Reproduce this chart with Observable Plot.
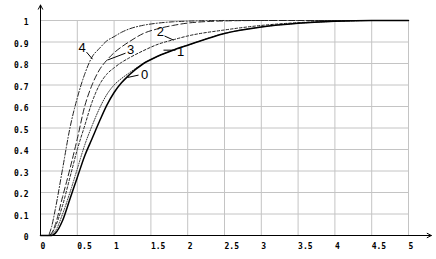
<!DOCTYPE html>
<html>
<head>
<meta charset="utf-8">
<script src="https://cdn.jsdelivr.net/npm/d3@7"></script>
<script src="https://cdn.jsdelivr.net/npm/@observablehq/plot@0.6"></script>
<style>
  html, body { margin: 0; padding: 0; background: #fff; }
  svg { display: block; }
</style>
</head>
<body>
<div id="chart"></div>
<script>
// x positions at which curves were read
const xs = [0, 0.1, 0.15, 0.2, 0.3, 0.4, 0.5, 0.6, 0.7, 0.8, 0.9, 1.0, 1.1, 1.2, 1.4, 1.6, 1.8, 2.0, 2.5, 3.0, 3.5, 4.0, 4.5, 5.0];
// series values (cumulative curves)
const curve0 = [0, 0, 0, 0.01, 0.07, 0.17, 0.27, 0.37, 0.45, 0.53, 0.605, 0.665, 0.71, 0.745, 0.80, 0.835, 0.862, 0.885, 0.94, 0.97, 0.987, 0.996, 1, 1];
const curve1 = [0, 0, 0.005, 0.02, 0.10, 0.20, 0.31, 0.42, 0.51, 0.59, 0.655, 0.70, 0.73, 0.755, 0.80, 0.835, 0.862, 0.885, 0.94, 0.97, 0.987, 0.996, 1, 1];
const curve2 = [0, 0, 0.01, 0.04, 0.14, 0.27, 0.40, 0.51, 0.62, 0.70, 0.75, 0.78, 0.805, 0.825, 0.86, 0.89, 0.91, 0.928, 0.956, 0.977, 0.99, 0.997, 1, 1];
const curve3 = [0, 0, 0.01, 0.05, 0.18, 0.31, 0.45, 0.60, 0.70, 0.77, 0.815, 0.85, 0.877, 0.90, 0.94, 0.962, 0.977, 0.988, 0.998, 1, 1, 1, 1, 1];
const curve4 = [0, 0, 0.04, 0.12, 0.31, 0.50, 0.64, 0.75, 0.83, 0.87, 0.905, 0.925, 0.945, 0.96, 0.978, 0.988, 0.994, 0.997, 1, 1, 1, 1, 1, 1];
// tick labels
const xTicks = [0, 0.5, 1, 1.5, 2, 2.5, 3, 3.5, 4, 4.5, 5];
const yTicks = [0, 0.1, 0.2, 0.3, 0.4, 0.5, 0.6, 0.7, 0.8, 0.9, 1];
// curve labels: text, label anchor, leader start, leader end
const labelNames = ["4", "3", "2", "1", "0"];
const labelX = [0.564, 1.223, 1.63, 1.902, 1.413];
const labelY = [0.872, 0.862, 0.946, 0.853, 0.746];
const leadX1 = [0.625, 1.155, 1.685, 1.834, 1.332];
const leadY1 = [0.853, 0.848, 0.928, 0.862, 0.746];
const leadX2 = [0.707, 0.91, 1.807, 1.671, 1.182];
const leadY2 = [0.82, 0.816, 0.909, 0.862, 0.735];

const toRows = (ys) => xs.map((x, i) => ({x, y: ys[i]}));
const labels = labelNames.map((t, i) => ({t, x: labelX[i], y: labelY[i], x1: leadX1[i], y1: leadY1[i], x2: leadX2[i], y2: leadY2[i]}));

const tickFont = {fontFamily: "DejaVu Sans Mono", fontWeight: "bold", fontSize: 8, fill: "#000"};

const chart = Plot.plot({
  width: 436,
  height: 259,
  marginLeft: 40,
  marginRight: 28,
  marginTop: 20,
  marginBottom: 24,
  style: {background: "#fff", overflow: "visible"},
  x: {domain: [0, 5], axis: null},
  y: {domain: [0, 1], axis: null},
  marks: [
    Plot.gridX(xTicks, {stroke: "#c4c4c4", strokeOpacity: 1, strokeWidth: 1}),
    Plot.gridY(yTicks, {stroke: "#c4c4c4", strokeOpacity: 1, strokeWidth: 1}),
    Plot.line(toRows(curve4), {x: "x", y: "y", curve: "monotone-x", stroke: "#222", strokeWidth: 1, strokeDasharray: "5,2,1,2"}),
    Plot.line(toRows(curve3), {x: "x", y: "y", curve: "monotone-x", stroke: "#222", strokeWidth: 1, strokeDasharray: "6,3"}),
    Plot.line(toRows(curve2), {x: "x", y: "y", curve: "monotone-x", stroke: "#222", strokeWidth: 1, strokeDasharray: "2.5,2"}),
    Plot.line(toRows(curve1), {x: "x", y: "y", curve: "monotone-x", stroke: "#333", strokeWidth: 1, strokeDasharray: "1,1.5"}),
    Plot.line(toRows(curve0), {x: "x", y: "y", curve: "monotone-x", stroke: "#000", strokeWidth: 1.5}),
    Plot.link(labels, {x1: "x1", y1: "y1", x2: "x2", y2: "y2", stroke: "#000", strokeWidth: 1}),
    Plot.text(labels, {x: "x", y: "y", text: "t", fontFamily: "Liberation Sans", fontSize: 13, fill: "#000"}),
    Plot.arrow([0], {x1: 0, y1: 0, x2: 0, y2: 1.072, stroke: "#000", strokeWidth: 1, headLength: 7, headAngle: 55}),
    Plot.arrow([0], {x1: 0, y1: 0, x2: 5.31, y2: 0, stroke: "#000", strokeWidth: 1, headLength: 7, headAngle: 55}),
    Plot.text(xTicks, {x: d => d, y: 0, text: d => String(d), textAnchor: "start", dy: 11, dx: 0, letterSpacing: 1.8, ...tickFont}),
    Plot.text(yTicks, {x: 0, y: d => d, text: d => String(d), textAnchor: "end", dx: -12, dy: 2, letterSpacing: 1.8, ...tickFont})
  ]
});
document.getElementById("chart").appendChild(chart);
</script>
</body>
</html>
